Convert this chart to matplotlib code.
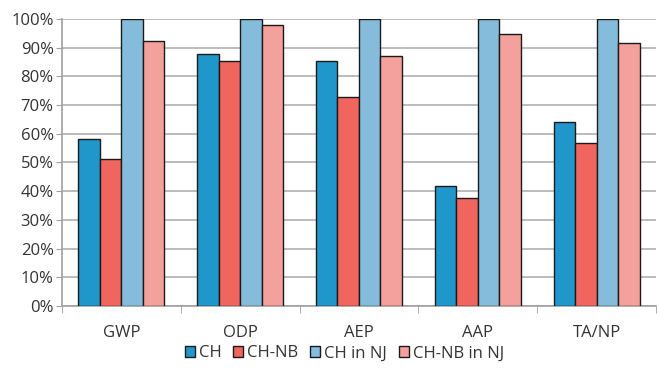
import numpy as np
import matplotlib
matplotlib.use('Agg')
import matplotlib.pyplot as plt
from matplotlib.ticker import PercentFormatter, MultipleLocator

# categories and series
categories = ['GWP', 'ODP', 'AEP', 'AAP', 'TA/NP']
ch = [58.2, 87.8, 85.3, 41.7, 64.0]
ch_nb = [51.2, 85.3, 72.9, 37.5, 56.7]
ch_nj = [100, 100, 100, 100, 100]
ch_nb_nj = [92.3, 97.7, 87.1, 94.6, 91.7]

series = [ch, ch_nb, ch_nj, ch_nb_nj]
labels = ['CH', 'CH-NB', 'CH in NJ', 'CH-NB in NJ']
colors = ['#1f97cb', '#f0665e', '#86bcdb', '#f4a09c']

plt.rcParams['font.family'] = ['Open Sans', 'DejaVu Sans']

fig = plt.figure(figsize=(6.57, 3.70), dpi=100)
ax = fig.add_axes([0.0944, 0.173, 0.904, 0.776])

x = np.arange(len(categories))
w = 0.181
for i, (vals, lab, col) in enumerate(zip(series, labels, colors)):
    ax.bar(x + (i - 1.5) * w, vals, w, color=col, edgecolor='#1a1a1a',
           linewidth=1.0, label=lab, zorder=3)

ax.set_xlim(-0.5, len(categories) - 0.5)
ax.set_ylim(0, 100)
ax.yaxis.set_major_locator(MultipleLocator(10))
ax.yaxis.set_major_formatter(PercentFormatter(decimals=0))
ax.set_xticks(x)
ax.set_xticklabels(categories)
ax.set_xticks(np.arange(len(categories) + 1) - 0.5, minor=True)
ax.tick_params(axis='x', which='major', length=0, pad=14, labelsize=12, colors='#333333')
ax.tick_params(axis='x', which='minor', length=5, color='#a0a0a0', direction='out')
ax.tick_params(axis='y', length=4, pad=2, color='#a0a0a0', labelsize=12, colors='#333333')
ax.tick_params(axis='y', color='#a0a0a0')

ax.grid(axis='y', color='#b0b0b0', linewidth=1.2, zorder=0)
for s in ['top', 'right']:
    ax.spines[s].set_visible(False)
for s in ['left', 'bottom']:
    ax.spines[s].set_color('#a0a0a0')
    ax.spines[s].set_linewidth(1.2)

fig.legend(loc='center', bbox_to_anchor=(0.524, 0.045), ncol=4, frameon=False,
           fontsize=12, handlelength=0.6, handleheight=0.6, handletextpad=0.25,
           columnspacing=0.7, labelcolor='#333333')

fig.savefig('out.png', dpi=100)
